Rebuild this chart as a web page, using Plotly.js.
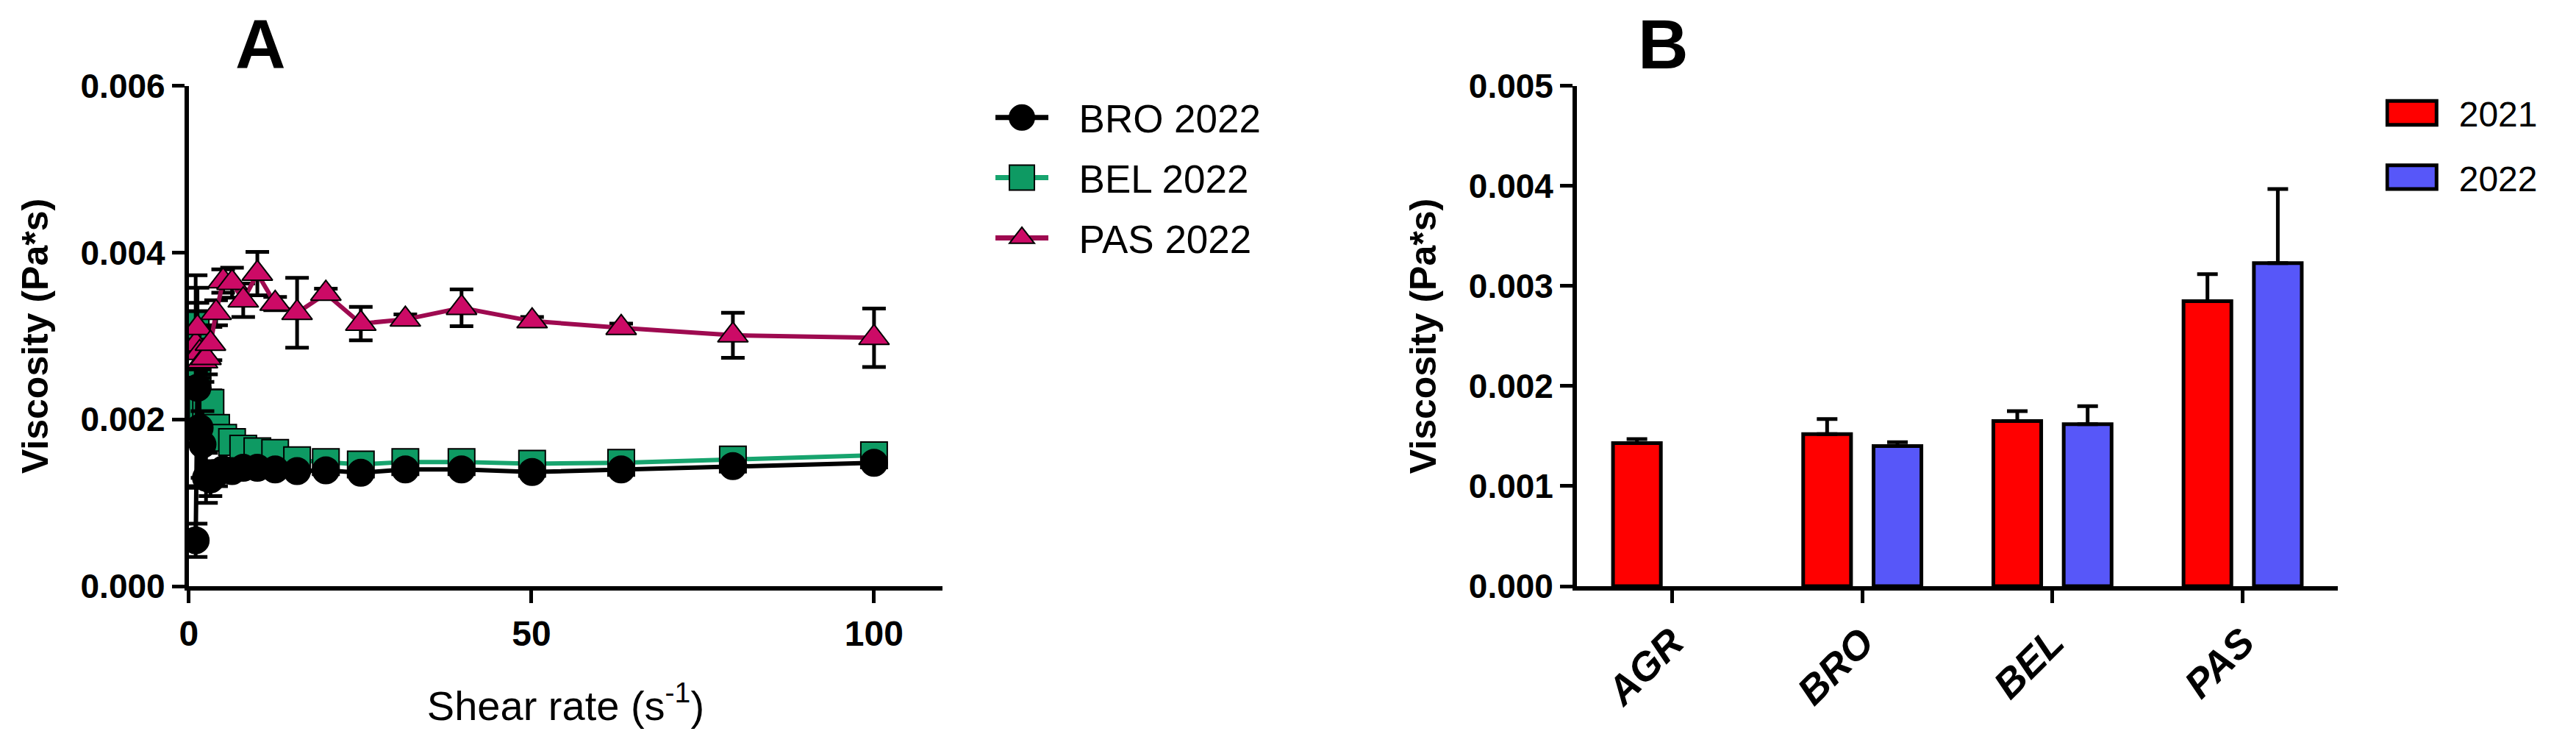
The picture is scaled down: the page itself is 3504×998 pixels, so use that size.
<!DOCTYPE html>
<html>
<head>
<meta charset="utf-8">
<script src="https://cdn.plot.ly/plotly-3.0.1.min.js"></script>
<style>
  html, body { margin: 0; padding: 0; background: #fff; }
  #myDiv { width: 3504px; height: 998px; }
</style>
</head>
<body>
<div id="myDiv"></div>
<script>
// panel A: shear rate sweep, 2022 samples
var shearRate = [1, 1.26, 1.58, 2, 2.51, 3.16, 3.98, 5.01, 6.31, 7.94, 10, 12.6, 15.8, 20, 25.1, 31.6, 39.8, 50.1, 63.1, 79.4, 100];

var bro2022 = [0.00055, 0.00238, 0.0019, 0.0017, 0.0013, 0.00128, 0.00135, 0.0014, 0.00138, 0.00142, 0.00142, 0.0014, 0.00138, 0.00139, 0.00136, 0.0014, 0.0014, 0.00137, 0.0014, 0.00144, 0.00148];
var bro2022Err = [0.0002, 0.0012, 0.0007, 0.0004, 0.0003, 0.0002, 0.00015, 0.0001, 0.00008, 0.00006, 0.00005, 0.00004, 0.00004, 0.00003, 0.00003, 0.00003, 0.00003, 0.00003, 0.00003, 0.00003, 0.00003];

var bel2022 = [0.00313, 0.00245, 0.00207, 0.0021, 0.00215, 0.0022, 0.0019, 0.00178, 0.00173, 0.00165, 0.00162, 0.0016, 0.00151, 0.00149, 0.00146, 0.00149, 0.00149, 0.00147, 0.00148, 0.00152, 0.00157];
var bel2022Err = [0.0006, 0.0004, 0.0003, 0.0002, 0.00018, 0.00015, 0.00012, 0.0001, 0.00008, 0.00006, 0.00006, 0.00005, 0.00005, 0.00004, 0.00004, 0.00004, 0.00004, 0.00004, 0.00004, 0.00004, 0.00005];

var pas2022 = [0.0029, 0.0031, 0.0028, 0.0027, 0.00274, 0.00291, 0.00328, 0.00366, 0.00364, 0.00343, 0.00375, 0.00339, 0.00328, 0.00351, 0.00315, 0.0032, 0.00334, 0.00318, 0.0031, 0.00301, 0.00298];
var pas2022Err = [0.0004, 0.0003, 0.0003, 0.00025, 0.0002, 0.0002, 0.00015, 0.00014, 0.00018, 0.0002, 0.00026, 0.00008, 0.00042, 0.00006, 0.0002, 0.00006, 0.00022, 0.00005, 0.00005, 0.00027, 0.00035];

// panel B: mean viscosity per site and year
var sites = ['AGR', 'BRO', 'BEL', 'PAS'];
var visc2021 = [0.00143, 0.00152, 0.00165, 0.00285];
var visc2021Err = [0.00004, 0.00015, 0.0001, 0.00027];
var visc2022 = [null, 0.0014, 0.00162, 0.00323];
var visc2022Err = [0, 0.00004, 0.00018, 0.00074];

var fontMain = 'Arial, "Liberation Sans", sans-serif';

function lineTrace(name, rank, y, err, symbol, fill, lineColor) {
    return {
        x: shearRate,
        y: y,
        name: name,
        type: 'scatter',
        mode: 'lines+markers',
        xaxis: 'x',
        yaxis: 'y',
        legend: 'legend',
        legendgroup: name,
        legendrank: rank,
        line: { color: lineColor, width: 6 },
        marker: { symbol: symbol, size: 36, color: fill, line: { color: '#000', width: 2 } },
        error_y: { type: 'data', array: err, visible: true, color: '#000', thickness: 5, width: 16 }
    };
}

function barTrace(name, y, err, fill) {
    let zeros = err.map(function () { return 0; });
    return {
        x: sites,
        y: y,
        name: name,
        type: 'bar',
        xaxis: 'x2',
        yaxis: 'y2',
        legend: 'legend2',
        legendgroup: name,
        marker: { color: fill, line: { color: '#000', width: 5 } },
        error_y: { type: 'data', symmetric: false, array: err, arrayminus: zeros, visible: true, color: '#000', thickness: 5, width: 14 }
    };
}

// BRO drawn after BEL so the circles sit on the squares, PAS on top
var data = [
    lineTrace('BEL 2022', 2, bel2022, bel2022Err, 'square', '#0E9A63', '#17A46E'),
    lineTrace('BRO 2022', 1, bro2022, bro2022Err, 'circle', '#000000', '#000000'),
    lineTrace('PAS 2022', 3, pas2022, pas2022Err, 'triangle-up', '#CC0A66', '#9E0A50'),
    barTrace('2021', visc2021, visc2021Err, '#FF0000'),
    barTrace('2022', visc2022, visc2022Err, '#5757F9')
];

var axisBase = {
    showline: true,
    linecolor: '#000',
    linewidth: 6,
    showgrid: false,
    zeroline: false,
    ticks: 'outside',
    ticklen: 17,
    tickwidth: 5,
    tickcolor: '#000'
};

var layout = {
    width: 3504,
    height: 998,
    margin: { l: 0, r: 0, t: 0, b: 0 },
    paper_bgcolor: '#fff',
    plot_bgcolor: '#fff',
    font: { family: fontMain, color: '#000' },
    barmode: 'group',
    bargap: 0.26,
    bargroupgap: 0.32,
    xaxis: Object.assign({}, axisBase, {
        domain: [0.0733, 0.3659],
        anchor: 'y',
        range: [0, 110],
        tickvals: [0, 50, 100],
        tickfont: { size: 48, weight: 'bold' },
        title: { text: 'Shear rate (s<sup>-1</sup>)', font: { size: 56 }, standoff: 55 }
    }),
    yaxis: Object.assign({}, axisBase, {
        domain: [0.2014, 0.8828],
        anchor: 'x',
        range: [0, 0.006],
        tickvals: [0, 0.002, 0.004, 0.006],
        tickformat: '.3f',
        tickfont: { size: 46, weight: 'bold' },
        title: { text: 'Viscosity (Pa*s)', font: { size: 50, weight: 'bold' }, standoff: 30 }
    }),
    xaxis2: Object.assign({}, axisBase, {
        domain: [0.6122, 0.9075],
        anchor: 'y2',
        tickangle: -45,
        tickfont: { size: 54, weight: 'bold', style: 'italic' }
    }),
    yaxis2: Object.assign({}, axisBase, {
        domain: [0.2014, 0.8828],
        anchor: 'x2',
        range: [0, 0.005],
        dtick: 0.001,
        tickformat: '.3f',
        tickfont: { size: 46, weight: 'bold' },
        title: { text: 'Viscosity (Pa*s)', font: { size: 50, weight: 'bold' }, standoff: 30 }
    }),
    legend: {
        x: 0.386, y: 0.881, xanchor: 'left', yanchor: 'top',
        font: { size: 53 },
        itemwidth: 105,
        tracegroupgap: 10,
        bgcolor: 'rgba(0,0,0,0)'
    },
    legend2: {
        x: 0.926, y: 0.884, xanchor: 'left', yanchor: 'top',
        font: { size: 48 },
        itemwidth: 90,
        tracegroupgap: 22,
        bgcolor: 'rgba(0,0,0,0)'
    },
    annotations: [
        { text: '<b>A</b>', x: 354 / 3504, y: 0.94, xref: 'paper', yref: 'paper', showarrow: false, font: { size: 95 }, xanchor: 'center', yanchor: 'middle' },
        { text: '<b>B</b>', x: 2262 / 3504, y: 0.94, xref: 'paper', yref: 'paper', showarrow: false, font: { size: 95 }, xanchor: 'center', yanchor: 'middle' }
    ]
};

var config = {
    displayModeBar: false,
    responsive: false
};

function translateX(el) {
    let m = /translate\(\s*([-\d.]+)/.exec(el.getAttribute('transform') || '');
    return m ? parseFloat(m[1]) : 20;
}

// plotly caps legend symbols at 16px, the figure uses much bigger keys
function enlargeLegendKeys(gd) {
    gd.querySelectorAll('g.legend g.traces').forEach(function (item) {
        let pt = item.querySelector('.legendpoints path.scatterpts');
        let ln = item.querySelector('.legendlines path');
        let cx = (pt ? translateX(pt) : 20) - 20;
        if (pt) {
            let box = pt.getBBox();
            let k = box.width ? 34 / box.width : 2;
            pt.setAttribute('transform', 'translate(' + cx + ',0) scale(' + k + ')');
            pt.style.vectorEffect = 'non-scaling-stroke';
            pt.style.strokeWidth = '2px';
        }
        if (ln) {
            ln.removeAttribute('transform');
            ln.setAttribute('d', 'M' + (cx - 36) + ',0h72');
            ln.style.strokeWidth = '7px';
        }
    });
    gd.querySelectorAll('g.legend2 .legendpoints path').forEach(function (p) {
        let cx = translateX(p);
        p.setAttribute('transform', 'translate(' + (cx - 14) + ',0) scale(5.6,2.7)');
        p.style.vectorEffect = 'non-scaling-stroke';
        p.style.strokeWidth = '5px';
    });
}

Plotly.newPlot('myDiv', data, layout, config).then(enlargeLegendKeys);
</script>
</body>
</html>
